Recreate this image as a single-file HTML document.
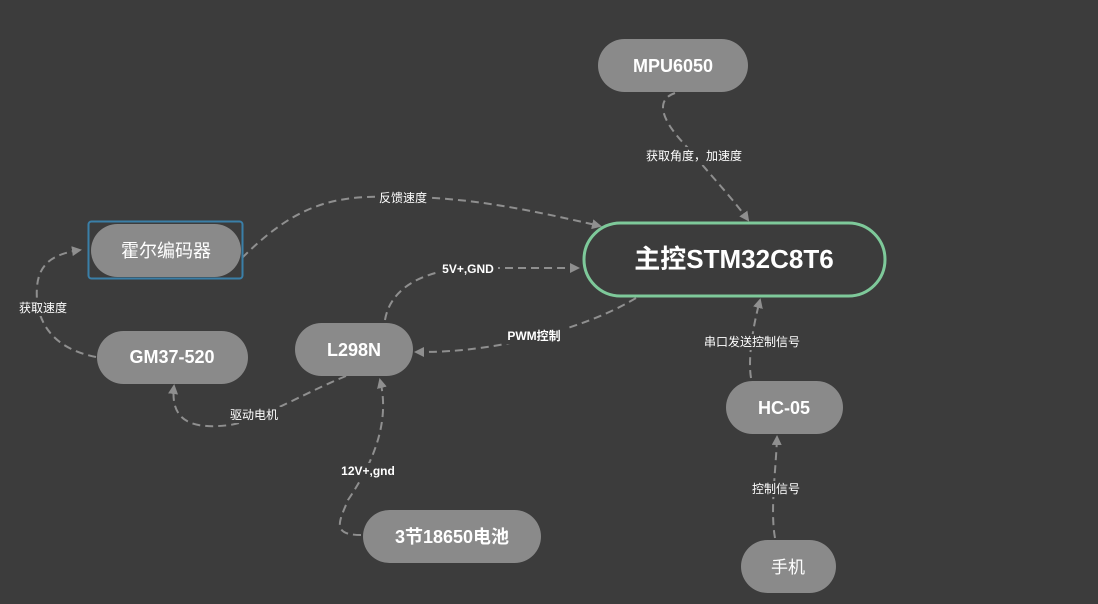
<!DOCTYPE html>
<html><head><meta charset="utf-8"><style>
html,body{margin:0;padding:0;background:#3c3c3c;}
svg{display:block;}
text{font-family:"Liberation Sans","Noto Sans CJK SC",sans-serif;fill:#fff;}
.n{fill:#8a8a8a;}
.e{fill:none;stroke:#8f8f8f;stroke-width:2;stroke-dasharray:8 5;}
.l{font-size:12px;text-anchor:middle;}
.t{font-size:18px;font-weight:bold;text-anchor:middle;}
.b{fill:#3c3c3c;}
</style></head><body>
<svg width="1098" height="604" viewBox="0 0 1098 604">
<defs><marker id="a" markerWidth="10" markerHeight="10" refX="8" refY="5" orient="auto" markerUnits="userSpaceOnUse"><path d="M0,0 L10,5 L0,10 z" fill="#8f8f8f"/></marker></defs>
<rect width="1098" height="604" fill="#3c3c3c"/>
<path class="e" d="M675,93 C655,100 660,120 690,150 C710,175 730,195 748,220" marker-end="url(#a)"/>
<path class="e" d="M242,258 C300,200 340,195 400,197 C470,197 530,210 600,226" marker-end="url(#a)"/>
<path class="e" d="M385,320 C390,290 420,270 470,268 C510,268 550,268 578,268" marker-end="url(#a)"/>
<path class="e" d="M636,298 C600,320 540,340 480,348 C450,352 430,352 416,352" marker-end="url(#a)"/>
<path class="e" d="M96,357 C60,350 40,330 37,300 C35,270 45,255 80,250" marker-end="url(#a)"/>
<path class="e" d="M346,376 C300,395 260,420 230,425 C190,430 170,420 174,386" marker-end="url(#a)"/>
<path class="e" d="M361,535 C330,535 340,520 348,500 C375,460 390,420 380,380" marker-end="url(#a)"/>
<path class="e" d="M751,378 C748,360 752,330 760,300" marker-end="url(#a)"/>
<path class="e" d="M775,538 C770,510 776,470 777,437" marker-end="url(#a)"/>
<rect class="b" x="638" y="147" width="112" height="18"/>
<text class="l" x="694" y="160">获取角度，加速度</text>
<rect class="b" x="375" y="190" width="56" height="16"/>
<text class="l" x="403" y="202">反馈速度</text>
<rect class="b" x="438" y="261" width="60" height="16"/>
<text class="l" x="468" y="273" font-weight="bold">5V+,GND</text>
<rect class="b" x="502" y="328" width="64" height="16"/>
<text class="l" x="534" y="340" font-weight="bold">PWM控制</text>
<rect class="b" x="14" y="300" width="58" height="16"/>
<text class="l" x="43" y="312">获取速度</text>
<rect class="b" x="225" y="407" width="58" height="16"/>
<text class="l" x="254" y="419">驱动电机</text>
<rect class="b" x="338" y="463" width="60" height="16"/>
<text class="l" x="368" y="475" font-weight="bold">12V+,gnd</text>
<rect class="b" x="698" y="334" width="108" height="16"/>
<text class="l" x="752" y="346">串口发送控制信号</text>
<rect class="b" x="747" y="481" width="58" height="16"/>
<text class="l" x="776" y="493">控制信号</text>
<rect x="584" y="223" width="301" height="73" rx="36.5" fill="#3c3c3c" stroke="#7ec99a" stroke-width="3"/>
<text x="734" y="268" font-size="26" font-weight="bold" text-anchor="middle">主控STM32C8T6</text>
<rect class="n" x="598" y="39" width="150" height="53" rx="26.5"/>
<text class="t" x="673" y="72">MPU6050</text>
<rect x="88.5" y="221.5" width="154" height="57" rx="3" fill="none" stroke="#3a7fa8" stroke-width="2"/>
<rect class="n" x="91" y="224" width="150" height="53" rx="26.5"/>
<text x="166" y="257" font-size="18" text-anchor="middle">霍尔编码器</text>
<rect class="n" x="97" y="331" width="151" height="53" rx="26.5"/>
<text class="t" x="172" y="363">GM37-520</text>
<rect class="n" x="295" y="323" width="118" height="53" rx="26.5"/>
<text class="t" x="354" y="356">L298N</text>
<rect class="n" x="726" y="381" width="117" height="53" rx="26.5"/>
<text class="t" x="784" y="414">HC-05</text>
<rect class="n" x="363" y="510" width="178" height="53" rx="26.5"/>
<text class="t" x="452" y="543">3节18650电池</text>
<rect class="n" x="741" y="540" width="95" height="53" rx="26.5"/>
<text x="788" y="573" font-size="17" text-anchor="middle">手机</text>
</svg>
</body></html>
